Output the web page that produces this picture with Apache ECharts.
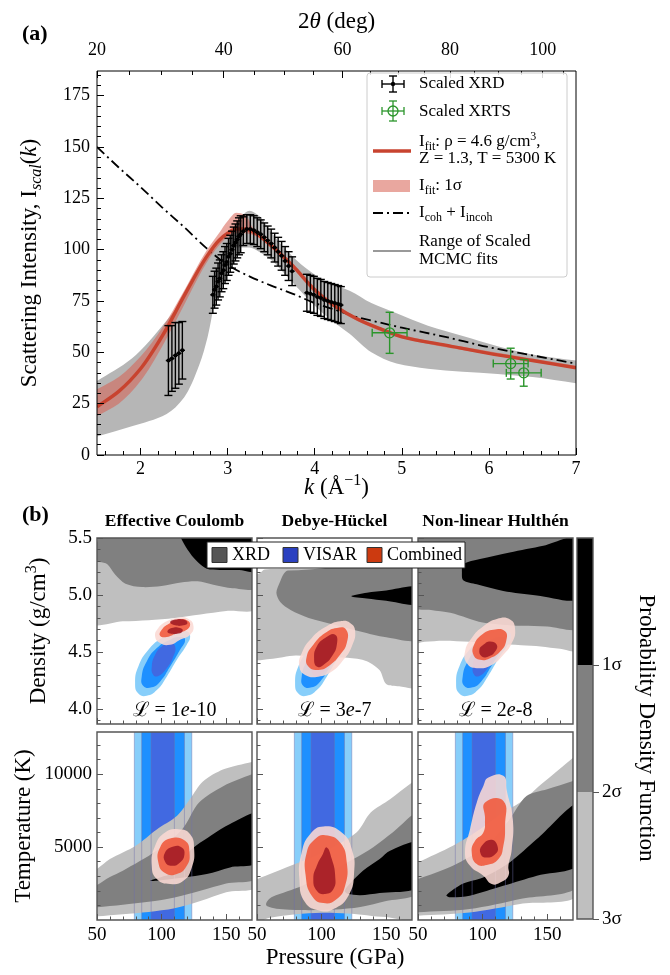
<!DOCTYPE html>
<html>
<head>
<meta charset="utf-8">
<title>Scattering intensity and EOS constraints</title>
<script src="https://cdn.jsdelivr.net/npm/echarts@6/dist/echarts.min.js"></script>
<style>
html, body { margin: 0; padding: 0; background: #fff; }
#chart { width: 670px; height: 975px; }
</style>
</head>
<body>
<div id="chart"></div>
<script>
const FONT = "'Liberation Serif', 'DejaVu Serif', serif";

// ---------- panel (a): scattering intensity vs k ----------
const kTicks = [2, 3, 4, 5, 6, 7];
const intensityTicks = [0, 25, 50, 75, 100, 125, 150, 175];
const twoThetaTicks = [20, 40, 60, 80, 100];

const xrdK = [2.32, 2.36, 2.40, 2.44, 2.48,
  2.83, 2.85, 2.87, 2.89, 2.91, 2.93, 2.95, 2.97, 2.99, 3.01, 3.03, 3.05, 3.07, 3.09, 3.11, 3.13, 3.15,
  3.18, 3.22, 3.26, 3.30, 3.34, 3.38, 3.42, 3.46, 3.50, 3.54, 3.58, 3.62, 3.66, 3.70, 3.74,
  3.91, 3.95, 3.99, 4.03, 4.07, 4.11, 4.15, 4.19, 4.23, 4.27, 4.30];
const xrdI = [46, 47, 48.5, 49.5, 51,
  78, 80.5, 82, 84.5, 86, 88.5, 90, 92.5, 94, 96.5, 98, 100, 102, 103.5, 105, 106.5, 107.5,
  109, 110, 110, 109.5, 108.5, 107.5, 106, 104.5, 103, 101, 99, 97, 94.5, 92, 89.5,
  79, 78.5, 78, 77, 76.5, 75.5, 75, 74.5, 74, 73.5, 73];
const xrdErr = [17, 16, 16, 15, 14,
  9, 9, 9, 9, 9, 9, 9, 9, 9, 9, 9, 9, 9, 9, 9, 9, 9,
  7, 7, 7, 7, 7, 7, 7, 7, 7, 7, 7, 7, 7, 7, 7,
  9, 9, 9, 9, 9, 9, 9, 9, 9, 9, 9];
const xrdKErr = 0.03;

const xrtsK = [4.86, 6.25, 6.40];
const xrtsI = [59.5, 44.5, 40];
const xrtsErr = [10, 7.5, 6.5];
const xrtsKErr = [0.2, 0.2, 0.2];

const fitK = [1.5, 1.75, 2.0, 2.25, 2.5, 2.75, 2.9, 3.0, 3.1, 3.2, 3.3, 3.5, 3.75, 4.0, 4.25, 4.5, 4.75, 5.0, 5.5, 6.0, 6.5, 7.0];
const fitI = [23.5, 31, 42, 58, 77.5, 96, 104.5, 108, 110, 110, 108.5, 102, 92, 80.5, 72, 66, 61.5, 57.5, 53.5, 49.5, 46, 42.5];

const bandK = [1.5, 1.75, 2.0, 2.25, 2.5, 2.75, 2.9, 3.0, 3.1, 3.2, 3.3, 3.5, 3.75, 4.0, 4.5, 5.0, 6.0, 7.0];
const bandLo = [19, 25, 36, 53, 73, 93, 102, 106, 108, 108, 107, 101, 91, 79, 65, 57, 49, 42];
const bandHi = [32, 38, 48, 62, 80, 99, 108, 114, 118, 117, 110, 103, 93, 81, 67, 58.5, 50.5, 43.5];

const mcK = [1.5, 1.9, 2.3, 2.5, 2.68, 2.77, 2.87, 2.96, 3.07, 3.25, 3.36, 3.5, 3.67, 3.9, 4.15, 4.4, 4.65, 4.94, 5.3, 5.7, 6.1, 6.5, 7.0];
const mcLo = [9, 14, 20, 28, 44.5, 57.5, 78.5, 93, 101, 101, 99, 95, 87.5, 77, 67, 59, 50, 44.5, 42, 40.5, 39.5, 38, 35];
const mcHi = [36, 47, 65.5, 77, 90, 96, 101.5, 106.5, 111, 119, 116.5, 108.5, 100, 91, 84, 80, 74, 69, 63, 58, 53, 49, 46];

const cohK = [1.5, 1.75, 2.0, 2.25, 2.5, 2.75, 3.0, 3.25, 3.5, 3.75, 4.0, 4.25, 4.5, 4.75, 5.0, 5.5, 6.0, 6.5, 7.0];
const cohI = [150, 140, 130.5, 120.5, 111, 101, 92.5, 87, 82.5, 78.5, 74, 70.5, 67, 64.5, 62, 57.5, 52.5, 48.5, 44.5];

// ---------- panel (b): posteriors in (P, rho) and (P, T) ----------
const pressureTicks = [50, 100, 150];
const densityTicks = [4.0, 4.5, 5.0, 5.5];
const temperatureTicks = [5000, 10000];
const sigmaTicks = [1, 2, 3];
const modelNames = ['Effective Coulomb', 'Debye-Hückel', 'Non-linear Hulthén'];
const likelihoods = ['1', '3', '2'];
const likelihoodExp = ['-10', '-7', '-8'];

// VISAR constraint (same for every model)
const visarRho3 = [[122.1,4.638],[119.5,4.564],[111.8,4.432],[104.0,4.285],[96.3,4.167],[88.5,4.117],[82.0,4.138],[79.5,4.226],[82.0,4.373],[89.8,4.520],[100.1,4.624],[111.8,4.682],[119.5,4.682]];
const visarRho2 = [[118.2,4.609],[114.3,4.520],[106.6,4.373],[98.8,4.241],[92.4,4.191],[85.9,4.203],[84.6,4.285],[88.5,4.417],[96.3,4.535],[106.6,4.609],[114.3,4.632]];
const visarRho1 = [[110.5,4.550],[109.1,4.461],[104.0,4.359],[97.5,4.291],[93.6,4.300],[92.4,4.373],[95.0,4.476],[100.1,4.550],[106.6,4.579]];
const visarP = [[78.9, 123.4], [84.6, 117.7], [91.9, 109.9]];

// XRD posteriors, density panels (3 sigma, 2 sigma, 1 sigma)
const ecRhoXrd3 = [[45,5.6],[175,5.6],[175,4.89],[150,4.86],[130,4.83],[110,4.80],[90,4.78],[70,4.77],[45,4.76]];
const ecRhoXrd2 = [[53,5.6],[175,5.6],[175,5.07],[155,5.06],[140,5.09],[128,5.12],[115,5.11],[100,5.08],[85,5.07],[72,5.1],[64,5.18],[58,5.27],[52,5.29],[45,5.29],[45,5.42],[50,5.46]];
const ecRhoXrd1 = [[112,5.6],[175,5.6],[175,5.21],[160,5.22],[145,5.22],[135,5.23],[127,5.3],[120,5.4],[115,5.5]];
const dhRhoXrd3 = [[45,5.16],[52,5.19],[56,5.225],[100,5.23],[175,5.23],[175,4.2],[160,4.2],[150,4.22],[145,4.34],[135,4.42],[120,4.45],[100,4.45],[80,4.47],[60,4.44],[45,4.45]];
const dhRhoXrd2 = [[74,5.215],[175,5.215],[175,4.62],[150,4.63],[130,4.68],[110,4.74],[90,4.8],[76,4.87],[68,4.94],[65,5.02],[68,5.12],[71,5.19]];
const dhRhoXrd1 = [[123,4.99],[135,5.02],[150,5.04],[175,5.07],[175,4.92],[150,4.95],[135,4.97]];
const nlRhoXrd3 = [[45,5.6],[175,5.6],[175,4.52],[160,4.53],[145,4.55],[130,4.56],[110,4.57],[90,4.59],[70,4.6],[55,4.59],[45,4.58]];
const nlRhoXrd2 = [[45,5.6],[175,5.6],[175,4.72],[150,4.725],[130,4.73],[115,4.74],[100,4.76],[88,4.8],[75,4.845],[60,4.87],[45,4.9]];
const nlRhoXrd1 = [[84,5.2],[85,5.27],[98,5.315],[121,5.373],[147,5.432],[175,5.5],[175,4.975],[142,4.997],[116,5.035],[95.5,5.094],[85,5.13]];

// combined posteriors, density panels
const ecRhoComb3 = [[124.7,4.726],[122.1,4.653],[114.3,4.609],[106.6,4.564],[98.8,4.579],[95.0,4.638],[97.5,4.712],[104.0,4.770],[111.8,4.800],[120.8,4.791]];
const ecRhoComb2 = [[122.1,4.741],[119.5,4.697],[111.8,4.667],[104.0,4.632],[98.8,4.644],[100.1,4.697],[106.6,4.756],[113.0,4.785],[119.5,4.779]];
const ecRhoComb1a = [[106.6,4.762],[110.5,4.785],[116.9,4.785],[120.0,4.756],[116.9,4.735],[110.5,4.735]];
const ecRhoComb1b = [[104.5,4.682],[107.9,4.712],[114.3,4.712],[116.4,4.688],[113.0,4.662],[106.6,4.662]];
const dhRhoComb3 = [[122.1,4.756],[126.0,4.682],[123.4,4.550],[116.9,4.432],[107.9,4.329],[97.5,4.285],[87.2,4.300],[82.8,4.373],[84.6,4.491],[92.4,4.624],[104.0,4.726],[114.3,4.770]];
const dhRhoComb2 = [[119.0,4.697],[119.5,4.579],[114.3,4.476],[106.6,4.388],[97.5,4.344],[89.8,4.373],[88.5,4.461],[93.6,4.564],[102.7,4.667],[111.8,4.712]];
const dhRhoComb1 = [[110.5,4.653],[111.8,4.564],[107.9,4.461],[101.4,4.388],[96.3,4.373],[94.2,4.447],[96.3,4.550],[102.7,4.624]];
const nlRhoComb3 = [[121.3,4.785],[125.2,4.697],[122.6,4.579],[116.1,4.476],[107.1,4.388],[95.5,4.359],[87.8,4.403],[86.4,4.505],[91.6,4.624],[100.6,4.726],[111.0,4.791]];
const nlRhoComb2 = [[117.4,4.682],[118.2,4.594],[113.6,4.505],[105.8,4.447],[98.1,4.432],[92.9,4.476],[93.4,4.564],[99.4,4.653],[108.4,4.697]];
const nlRhoComb1 = [[111.0,4.564],[109.7,4.505],[104.5,4.461],[99.4,4.461],[97.5,4.520],[100.6,4.564],[105.8,4.594]];

// XRD posteriors, temperature panels
const ecTXrd3 = [[45,3300],[50,3500],[60,4180],[80,5100],[96,6200],[112,7150],[122,8300],[132,9500],[148,10340],[170,10850],[175,10900],[175,2400],[150,1900],[130,1300],[110,800],[90,550],[70,400],[50,250],[45,230]];
const ecTXrd2 = [[45,2200],[50,2400],[60,2950],[70,3380],[96,4750],[116,6230],[129,8060],[148,9200],[170,10000],[175,10100],[175,3000],[150,2500],[130,2000],[110,1550],[90,1250],[70,1050],[50,870],[45,850]];
const ecTXrd1 = [[91,2690],[100,2950],[109,3260],[122,4750],[138,5780],[153,6580],[175,7300],[175,4000],[153,3610],[135,3150],[117,2920],[96,2700]];
const dhTXrd3 = [[45,2600],[50,2800],[76,3720],[101,4630],[127,6000],[138,7370],[153,8290],[170,9430],[175,9700],[175,150],[150,200],[120,450],[100,500],[80,400],[60,150],[45,-200]];
const dhTXrd2 = [[57,1100],[59,1400],[62,1600],[85,2350],[108,3380],[125,4200],[140,5000],[155,6000],[175,7300],[175,1950],[150,1300],[130,900],[110,720],[85,680],[65,780],[58,950]];
const dhTXrd1 = [[118,2000],[122,2500],[132,3380],[145,4180],[153,4750],[175,5300],[175,2300],[145,1850],[130,1700],[120,1800]];
const nlTXrd3 = [[45,3700],[50,3950],[77,5090],[98,6230],[116,7370],[129,8060],[147,9430],[170,11140],[175,11500],[175,1850],[129,1100],[90,520],[50,300],[45,280]];
const nlTXrd2 = [[45,2700],[50,2810],[77,3720],[103,5090],[120,6800],[134,8500],[150,8970],[170,9540],[175,9700],[175,2450],[129,1440],[90,750],[50,530],[45,510]];
const nlTXrd1 = [[72,1700],[85,2500],[100,2900],[121,3950],[142,5550],[175,8000],[175,3850],[142,3040],[116,2350],[90,1670],[75,1560]];

// combined posteriors, temperature panels
const ecTComb3 = [[122.1,5890],[125.2,4860],[123.4,3610],[116.9,2690],[106.6,2470],[96.3,2810],[92.4,3720],[95.0,5090],[102.7,6000],[113.0,6230]];
const ecTComb2 = [[118.2,5430],[121.6,4640],[119.5,3720],[111.8,3150],[102.7,3220],[97.5,3950],[98.8,4980],[106.6,5590]];
const ecTComb1 = [[115.6,4980],[117.7,4520],[114.3,3950],[107.9,3720],[102.7,4000],[102.7,4640],[109.2,5050]];
const dhTComb3 = [[101.4,6420],[115.6,6000],[123.4,4860],[125.2,3270],[120.8,1670],[109.2,750],[98.8,640],[87.2,1210],[82.8,2810],[84.6,4640],[91.1,5890]];
const dhTComb2 = [[102.7,5820],[114.3,5320],[119.5,3950],[118.2,2350],[111.8,1440],[101.4,1160],[92.4,1670],[87.7,3040],[88.5,4640],[95.0,5550]];
const dhTComb1 = [[104.0,4980],[107.9,4180],[110.5,3040],[109.2,2120],[102.7,1780],[96.3,2010],[93.6,2810],[96.3,3720],[100.9,4520]];
const nlTComb3 = [[104.5,9770],[116.1,9890],[118.8,8860],[123.4,6920],[122.6,4860],[120.0,3720],[120.0,3040],[113.6,2580],[107.1,2470],[100.6,3040],[90.3,3720],[86.4,4640],[90.3,6230],[95.5,8060],[100.6,9200]];
const nlTComb2 = [[101.9,8060],[116.1,8170],[117.4,6460],[116.1,5090],[112.3,4180],[103.2,3770],[95.5,3840],[91.6,4640],[94.2,5430],[100.6,6000],[101.9,6920]];
const nlTComb1 = [[107.1,5500],[111.8,4980],[109.7,4520],[103.2,4290],[98.6,4520],[99.4,5090]];

const pdfLevels = [[0, 1], [1, 2], [2, 3]];

// ---------- colours / layout ----------
const GRAY = ['#bfbfbf', '#808080', '#000000'];
const BLUE = ['#87cefa', '#1e90ff', '#4169e1'];
const RED = ['rgba(251,218,212,0.88)', 'rgba(240,88,58,0.88)', 'rgba(160,26,36,0.88)'];
const pdfColors = ['#000000', '#808080', '#bfbfbf'];
const FIT_RED = '#c8432f';
const FIT_BAND = 'rgba(215,95,80,0.55)';
const MCMC_GRAY = '#b6b6b6';
const XRTS_GREEN = '#2b952b';

const A = { left: 97, top: 71, width: 479, height: 384 };
const panelLeft = [97, 257, 418];
const panelW = 155;
const rowTop = [538, 732];
const rowH = [186, 188];
const CB = { left: 577, top: 538, width: 16, height: 381 };
const rhoRange = [3.87, 5.5];
const tRange = [0, 12900];
const pRange = [50, 170];

const K0 = 1.5 / Math.sin(10 * Math.PI / 180);
function thetaToK(tt) { return K0 * Math.sin(tt / 2 * Math.PI / 180); }
function kToTheta(k) { return 2 * Math.asin(k / K0) * 180 / Math.PI; }

function range(a, b, step, skip) {
  const out = [];
  for (let v = a; v <= b + 1e-9; v += step) {
    const r = Math.round(v * 1000) / 1000;
    if (!skip(r)) out.push(r);
  }
  return out;
}
const kMinor = range(1.6, 6.8, 0.2, v => Math.abs(v - Math.round(v)) < 1e-6);
const yMinor = range(5, 185, 5, v => v % 25 === 0);
const ttMinor = range(25, 105, 5, v => v % 20 === 0);
const pMinor = range(60, 160, 10, v => v % 50 === 0);
const rhoMinor = range(3.9, 5.4, 0.1, v => Math.abs(v * 2 - Math.round(v * 2)) < 1e-6);
const tMinor = range(1000, 12000, 1000, v => v % 5000 === 0);

// ---------- grids and axes ----------
const grids = [], xAxes = [], yAxes = [];
function makeAxis(list, gridIndex, position, min, max, ticks, tickLen, tickColor, labels, labelOpt) {
  const ax = {
    type: 'value', gridIndex: gridIndex, position: position, min: min, max: max, z: 50,
    axisLine: { show: false, onZero: false },
    splitLine: { show: false },
    axisTick: { show: true, inside: true, length: tickLen, customValues: ticks, lineStyle: { color: tickColor, width: 1 } },
    axisLabel: { show: false }
  };
  if (labels) {
    ax.axisLabel = Object.assign({ show: true, customValues: labels, color: '#000', fontFamily: FONT, fontSize: 19 }, labelOpt || {});
  }
  list.push(ax);
  return list.length - 1;
}

grids.push({ left: A.left, top: A.top, width: A.width, height: A.height });
const axA = {
  x: makeAxis(xAxes, 0, 'bottom', 1.5, 7, kTicks, 7, '#000', kTicks, { fontSize: 18, margin: 5 }),
  y: makeAxis(yAxes, 0, 'left', 0, 187, intensityTicks, 7, '#000', intensityTicks, { fontSize: 18, margin: 7 })
};
makeAxis(xAxes, 0, 'bottom', 1.5, 7, kMinor, 4, '#000');
makeAxis(xAxes, 0, 'top', 1.5, 7, twoThetaTicks.map(thetaToK), 7, '#000', twoThetaTicks.map(thetaToK),
  { fontSize: 18, margin: 12, formatter: v => String(Math.round(kToTheta(v))) });
makeAxis(xAxes, 0, 'top', 1.5, 7, ttMinor.map(thetaToK), 4, '#000');
makeAxis(yAxes, 0, 'left', 0, 187, yMinor, 4, '#000');

const panelAxes = [[], []];
for (let row = 0; row < 2; row++) {
  for (let i = 0; i < 3; i++) {
    grids.push({ left: panelLeft[i], top: rowTop[row], width: panelW, height: rowH[row] });
    const g = grids.length - 1;
    const yr = row === 0 ? rhoRange : tRange;
    const yMaj = row === 0 ? densityTicks : temperatureTicks;
    const yMin = row === 0 ? rhoMinor : tMinor;
    const ax = {
      x: makeAxis(xAxes, g, 'bottom', pRange[0], pRange[1], pressureTicks, 6, '#555',
        row === 1 ? pressureTicks : null, { margin: 6 }),
      y: makeAxis(yAxes, g, 'left', yr[0], yr[1], yMaj, 6, '#555',
        i === 0 ? yMaj : null, { margin: 5, formatter: row === 0 ? (v => v.toFixed(1)) : (v => String(v)) })
    };
    makeAxis(xAxes, g, 'bottom', pRange[0], pRange[1], pMinor, 3.5, '#555');
    makeAxis(yAxes, g, 'left', yr[0], yr[1], yMin, 3.5, '#555');
    panelAxes[row].push(ax);
  }
}

grids.push({ left: CB.left, top: CB.top, width: CB.width, height: CB.height });
const gCB = grids.length - 1;
const axCB = { x: xAxes.length, y: yAxes.length };
xAxes.push({ type: 'value', gridIndex: gCB, min: 0, max: 1, show: false });
yAxes.push({
  type: 'value', gridIndex: gCB, position: 'right', min: 0, max: 3, inverse: true, z: 50,
  axisLine: { show: false, onZero: false }, splitLine: { show: false },
  axisTick: { show: true, inside: false, length: 6, customValues: sigmaTicks, lineStyle: { color: '#555' } },
  axisLabel: { show: true, customValues: sigmaTicks, margin: 9, color: '#000', fontFamily: FONT, fontSize: 19, formatter: v => v + 'σ' }
});

// ---------- series ----------
const series = [];
let zc = 2;

// monotone cubic through pixel points (x strictly monotone)
function monotonePath(pts, first) {
  const n = pts.length, dx = [], s = [];
  for (let i = 0; i < n - 1; i++) {
    dx[i] = pts[i + 1][0] - pts[i][0];
    s[i] = (pts[i + 1][1] - pts[i][1]) / dx[i];
  }
  const m = [s[0]];
  for (let i = 1; i < n - 1; i++) {
    m[i] = (s[i - 1] * s[i] <= 0) ? 0 :
      3 * (dx[i - 1] + dx[i]) / ((2 * dx[i] + dx[i - 1]) / s[i - 1] + (dx[i] + 2 * dx[i - 1]) / s[i]);
  }
  m[n - 1] = s[n - 2];
  let d = first + pts[0][0].toFixed(2) + ',' + pts[0][1].toFixed(2);
  for (let i = 0; i < n - 1; i++) {
    const h = dx[i] / 3;
    d += ' C' + (pts[i][0] + h).toFixed(2) + ',' + (pts[i][1] + m[i] * h).toFixed(2) + ' ' +
      (pts[i + 1][0] - h).toFixed(2) + ',' + (pts[i + 1][1] - m[i + 1] * h).toFixed(2) + ' ' +
      pts[i + 1][0].toFixed(2) + ',' + pts[i + 1][1].toFixed(2);
  }
  return d;
}

function bandSeries(xs, lo, hi, color, z) {
  return {
    type: 'custom', xAxisIndex: axA.x, yAxisIndex: axA.y, clip: true, silent: true, z: z,
    data: xs.map((k, i) => [k, lo[i], hi[i]]),
    renderItem: function (params, api) {
      if (params.dataIndex !== 0) return null;
      const up = xs.map((k, i) => api.coord([k, hi[i]]));
      const dn = xs.map((k, i) => api.coord([k, lo[i]])).reverse();
      const d = monotonePath(up, 'M') + ' ' + monotonePath(dn, 'L') + ' Z';
      return { type: 'path', shape: { pathData: d }, style: { fill: color } };
    }
  };
}

function curveSeries(xs, ys, lineStyle, z) {
  return {
    type: 'custom', xAxisIndex: axA.x, yAxisIndex: axA.y, clip: true, silent: true, z: z,
    data: xs.map((k, i) => [k, ys[i]]),
    renderItem: function (params, api) {
      if (params.dataIndex !== 0) return null;
      const pts = xs.map((k, i) => api.coord([k, ys[i]]));
      return { type: 'path', shape: { pathData: monotonePath(pts, 'M') },
        style: Object.assign({ fill: 'none', lineJoin: 'round' }, lineStyle) };
    }
  };
}

function shapeSeries(ax, pts, fill, smooth) {
  return {
    type: 'custom', xAxisIndex: ax.x, yAxisIndex: ax.y, clip: true, silent: true, z: zc++,
    data: pts,
    renderItem: function (params, api) {
      if (params.dataIndex !== 0) return null;
      return {
        type: 'polygon',
        shape: { points: pts.map(p => api.coord(p)), smooth: smooth },
        style: { fill: fill }
      };
    }
  };
}

series.push(bandSeries(mcK, mcLo, mcHi, MCMC_GRAY, 1));
series.push(bandSeries(bandK, bandLo, bandHi, FIT_BAND, 2));
series.push(curveSeries(cohK, cohI, { stroke: '#000', lineWidth: 1.8, lineDash: [10, 4, 2, 4] }, 3));
series.push(curveSeries(fitK, fitI, { stroke: FIT_RED, lineWidth: 3.5 }, 4));

function errorBarSeries(ks, vs, errs, kerrs, color, open, z) {
  return {
    type: 'custom', xAxisIndex: axA.x, yAxisIndex: axA.y, clip: true, silent: true, z: z,
    data: ks.map((k, i) => [k, vs[i], errs[i], Array.isArray(kerrs) ? kerrs[i] : kerrs]),
    renderItem: function (params, api) {
      const k = api.value(0), v = api.value(1), e = api.value(2), ek = api.value(3);
      const c = api.coord([k, v]);
      const t = api.coord([k, v + e]), b = api.coord([k, v - e]);
      const l = api.coord([k - ek, v]), r = api.coord([k + ek, v]);
      const cap = 4;
      const st = () => ({ stroke: color, lineWidth: 1.4 });
      const kids = [
        { type: 'line', shape: { x1: t[0], y1: t[1], x2: b[0], y2: b[1] }, style: st() },
        { type: 'line', shape: { x1: t[0] - cap, y1: t[1], x2: t[0] + cap, y2: t[1] }, style: st() },
        { type: 'line', shape: { x1: b[0] - cap, y1: b[1], x2: b[0] + cap, y2: b[1] }, style: st() },
        { type: 'line', shape: { x1: l[0], y1: l[1], x2: r[0], y2: r[1] }, style: st() }
      ];
      if (open) {
        kids.push({ type: 'line', shape: { x1: l[0], y1: l[1] - cap, x2: l[0], y2: l[1] + cap }, style: st() });
        kids.push({ type: 'line', shape: { x1: r[0], y1: r[1] - cap, x2: r[0], y2: r[1] + cap }, style: st() });
        kids.push({ type: 'circle', shape: { cx: c[0], cy: c[1], r: 5 }, style: { fill: 'none', stroke: color, lineWidth: 1.3 } });
      } else {
        kids.push({ type: 'circle', shape: { cx: c[0], cy: c[1], r: 2 }, style: { fill: color } });
      }
      return { type: 'group', children: kids };
    }
  };
}
series.push(errorBarSeries(xrdK, xrdI, xrdErr, xrdKErr, '#000', false, 5));
series.push(errorBarSeries(xrtsK, xrtsI, xrtsErr, xrtsKErr, XRTS_GREEN, true, 6));

// panel (b) upper row: density
const rhoSets = [
  { xrd: [ecRhoXrd3, ecRhoXrd2, ecRhoXrd1], comb: [[ecRhoComb3], [ecRhoComb2], [ecRhoComb1a, ecRhoComb1b]] },
  { xrd: [dhRhoXrd3, dhRhoXrd2, dhRhoXrd1], comb: [[dhRhoComb3], [dhRhoComb2], [dhRhoComb1]] },
  { xrd: [nlRhoXrd3, nlRhoXrd2, nlRhoXrd1], comb: [[nlRhoComb3], [nlRhoComb2], [nlRhoComb1]] }
];
const tSets = [
  { xrd: [ecTXrd3, ecTXrd2, ecTXrd1], comb: [ecTComb3, ecTComb2, ecTComb1] },
  { xrd: [dhTXrd3, dhTXrd2, dhTXrd1], comb: [dhTComb3, dhTComb2, dhTComb1] },
  { xrd: [nlTXrd3, nlTXrd2, nlTXrd1], comb: [nlTComb3, nlTComb2, nlTComb1] }
];
const visarRho = [visarRho3, visarRho2, visarRho1];

for (let i = 0; i < 3; i++) {
  const ax = panelAxes[0][i];
  rhoSets[i].xrd.forEach((pts, j) => series.push(shapeSeries(ax, pts, GRAY[j], 0.3)));
  visarRho.forEach((pts, j) => series.push(shapeSeries(ax, pts, BLUE[j], 0.5)));
  rhoSets[i].comb.forEach((list, j) => list.forEach(pts => series.push(shapeSeries(ax, pts, RED[j], 0.5))));
}

// panel (b) lower row: temperature
for (let i = 0; i < 3; i++) {
  const ax = panelAxes[1][i];
  series.push({
    type: 'custom', xAxisIndex: ax.x, yAxisIndex: ax.y, clip: true, silent: true, z: zc++,
    data: visarP.map((b, j) => [b[0], b[1], j]),
    renderItem: function (params, api) {
      const p0 = api.coord([api.value(0), tRange[1]]);
      const p1 = api.coord([api.value(1), tRange[0]]);
      return { type: 'rect', shape: { x: p0[0], y: p0[1], width: p1[0] - p0[0], height: p1[1] - p0[1] },
        style: { fill: BLUE[api.value(2)] } };
    }
  });
  tSets[i].xrd.forEach((pts, j) => series.push(shapeSeries(ax, pts, GRAY[j], 0.3)));
  series.push({
    type: 'custom', xAxisIndex: ax.x, yAxisIndex: ax.y, clip: true, silent: true, z: zc++,
    data: [].concat(...visarP),
    renderItem: function (params, api) {
      const p0 = api.coord([api.value(0), tRange[1]]);
      const p1 = api.coord([api.value(0), tRange[0]]);
      return { type: 'line', shape: { x1: p0[0], y1: p0[1], x2: p1[0], y2: p1[1] },
        style: { stroke: 'rgba(110,110,170,0.45)', lineWidth: 1 } };
    }
  });
  tSets[i].comb.forEach((pts, j) => series.push(shapeSeries(ax, pts, RED[j], 0.5)));
}

series.push({
  type: 'custom', xAxisIndex: axCB.x, yAxisIndex: axCB.y, silent: true, z: 2,
  data: pdfLevels.map((l, j) => [l[0], l[1], j]),
  renderItem: function (params, api) {
    const p0 = api.coord([0, api.value(0)]);
    const p1 = api.coord([1, api.value(1)]);
    return { type: 'rect', shape: { x: p0[0], y: p0[1], width: p1[0] - p0[0], height: p1[1] - p0[1] },
      style: { fill: pdfColors[api.value(2)] } };
  }
});

// ---------- text, frames, legends ----------
function rich(fs) {
  const s = Math.round(fs * 0.68);
  return {
    i: { fontFamily: FONT, fontSize: fs, fontStyle: 'italic', fill: '#000' },
    sub: { fontFamily: FONT, fontSize: s, fill: '#000', padding: [Math.round(fs * 0.55), 0, 0, 0] },
    subi: { fontFamily: FONT, fontSize: s, fontStyle: 'italic', fill: '#000', padding: [Math.round(fs * 0.55), 0, 0, 0] },
    sup: { fontFamily: FONT, fontSize: s, fill: '#000', padding: [0, 0, Math.round(fs * 0.6), 0] },
    L: { fontFamily: "'DejaVu Serif', serif", fontSize: fs, fill: '#000' }
  };
}
function txt(x, y, text, fs, extra) {
  extra = extra || {};
  return {
    type: 'text', x: x, y: y, rotation: extra.rotation || 0, silent: true, z: 120,
    style: {
      text: text, fontFamily: FONT, fontSize: fs, fontWeight: extra.bold ? 'bold' : 'normal', fill: '#000',
      align: extra.align || 'center', verticalAlign: 'middle', rich: rich(fs)
    }
  };
}
function frame(x, y, w, h, color, lw) {
  return { type: 'rect', silent: true, z: 110, shape: { x: x, y: y, width: w, height: h },
    style: { fill: 'none', stroke: color, lineWidth: lw } };
}
function seg(x1, y1, x2, y2, stroke, lw, dash) {
  return { type: 'line', silent: true, z: 121, shape: { x1: x1, y1: y1, x2: x2, y2: y2 },
    style: { stroke: stroke, lineWidth: lw, lineDash: dash || null } };
}

const g = [];
g.push(frame(A.left, A.top, A.width, A.height, '#000', 1));
for (let row = 0; row < 2; row++) {
  for (let i = 0; i < 3; i++) g.push(frame(panelLeft[i], rowTop[row], panelW, rowH[row], '#555', 1.4));
}
g.push(frame(CB.left, CB.top, CB.width, CB.height, '#555', 1.4));

g.push(txt(22, 34, '(a)', 22, { bold: true, align: 'left' }));
g.push(txt(A.left + A.width / 2, 22, '2{i|θ} (deg)', 23));
g.push(txt(A.left + A.width / 2, 488, '{i|k} (Å{sup|−1})', 23));
g.push(txt(30, A.top + A.height / 2, 'Scattering Intensity, I{subi|scal}({i|k})', 23, { rotation: Math.PI / 2 }));

// legend (a)
g.push({ type: 'rect', silent: true, z: 115, shape: { x: 367, y: 73, width: 200, height: 204, r: 3 },
  style: { fill: 'rgba(255,255,255,0.85)', stroke: '#cccccc', lineWidth: 1 } });
const lx = 393;
g.push(seg(lx, 76, lx, 92, '#000', 1.4), seg(lx - 4, 76, lx + 4, 76, '#000', 1.4), seg(lx - 4, 92, lx + 4, 92, '#000', 1.4),
  seg(382, 84, 404, 84, '#000', 1.4), seg(382, 80, 382, 88, '#000', 1.4), seg(404, 80, 404, 88, '#000', 1.4));
g.push({ type: 'circle', silent: true, z: 122, shape: { cx: lx, cy: 84, r: 2.2 }, style: { fill: '#000' } });
g.push(seg(lx, 101, lx, 121, XRTS_GREEN, 1.3), seg(lx - 4, 101, lx + 4, 101, XRTS_GREEN, 1.3), seg(lx - 4, 121, lx + 4, 121, XRTS_GREEN, 1.3),
  seg(382, 111, 404, 111, XRTS_GREEN, 1.3), seg(382, 107, 382, 115, XRTS_GREEN, 1.3), seg(404, 107, 404, 115, XRTS_GREEN, 1.3));
g.push({ type: 'circle', silent: true, z: 122, shape: { cx: lx, cy: 111, r: 5 }, style: { fill: 'none', stroke: XRTS_GREEN, lineWidth: 1.3 } });
g.push(seg(373, 151, 411, 151, FIT_RED, 3.5));
g.push({ type: 'rect', silent: true, z: 121, shape: { x: 373, y: 180, width: 37, height: 12 }, style: { fill: FIT_BAND } });
g.push(seg(373, 213, 411, 213, '#000', 1.8, [10, 4, 2, 4]));
g.push(seg(373, 251, 411, 251, '#999999', 2));
const tx = 419;
g.push(txt(tx, 84, 'Scaled XRD', 17, { align: 'left' }));
g.push(txt(tx, 112, 'Scaled XRTS', 17, { align: 'left' }));
g.push(txt(tx, 142, 'I{sub|fit}: ρ = 4.6 g/cm{sup|3},', 17, { align: 'left' }));
g.push(txt(tx, 159, 'Z = 1.3, T = 5300 K', 17, { align: 'left' }));
g.push(txt(tx, 186, 'I{sub|fit}: 1σ', 17, { align: 'left' }));
g.push(txt(tx, 213, 'I{sub|coh} + I{sub|incoh}', 17, { align: 'left' }));
g.push(txt(tx, 242, 'Range of Scaled', 17, { align: 'left' }));
g.push(txt(tx, 260, 'MCMC fits', 17, { align: 'left' }));

// panel (b) labels
g.push(txt(22, 515, '(b)', 22, { bold: true, align: 'left' }));
for (let i = 0; i < 3; i++) {
  const cx = panelLeft[i] + panelW / 2;
  g.push(txt(cx, 521, modelNames[i], 17.5, { bold: true }));
  g.push(txt(cx, 711, '{L|ℒ} = ' + likelihoods[i] + '{i|e}' + likelihoodExp[i], 20));
}
g.push(txt(39, rowTop[0] + rowH[0] / 2, 'Density (g/cm{sup|3})', 23, { rotation: Math.PI / 2 }));
g.push(txt(24, rowTop[1] + rowH[1] / 2, 'Temperature (K)', 23, { rotation: Math.PI / 2 }));
g.push(txt(335, 958, 'Pressure (GPa)', 23));
g.push(txt(646, 728, 'Probability Density Function', 23, { rotation: -Math.PI / 2 }));

// legend (b)
g.push({ type: 'rect', silent: true, z: 115, shape: { x: 207, y: 542, width: 258, height: 26 },
  style: { fill: '#fff', stroke: '#222', lineWidth: 1 } });
const legB = [['XRD', '#555555', 212], ['VISAR', '#2a40c0', 283], ['Combined', '#cc3a10', 367]];
legB.forEach(it => {
  g.push({ type: 'rect', silent: true, z: 121, shape: { x: it[2], y: 547.5, width: 15, height: 15 },
    style: { fill: it[1], stroke: '#333', lineWidth: 1 } });
  g.push(txt(it[2] + 20, 555, it[0], 18, { align: 'left' }));
});

const chart = echarts.init(document.getElementById('chart'));
chart.setOption({
  animation: false,
  backgroundColor: '#fff',
  grid: grids,
  xAxis: xAxes,
  yAxis: yAxes,
  series: series,
  graphic: { elements: g }
});
</script>
</body>
</html>
